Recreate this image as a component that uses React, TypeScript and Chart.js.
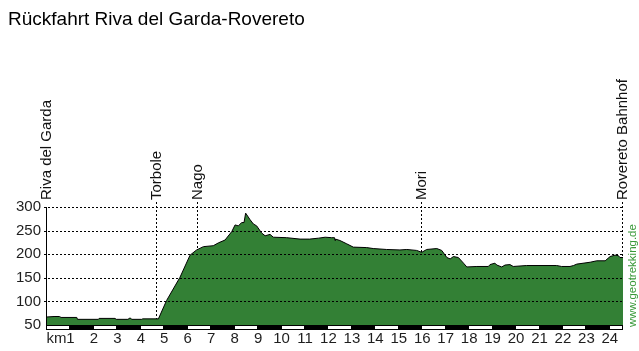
import React, { useEffect, useRef } from 'react';
import { Chart, registerables } from 'chart.js';

Chart.register(...registerables);

const TITLE = 'Rückfahrt Riva del Garda-Rovereto';
const CREDIT = 'www.geotrekking.de';
const KM_UNIT = 'km';

const KM = [
  0, 0.3, 0.53, 0.6, 1.27, 1.3, 2.19, 2.22, 2.9, 2.95, 3.45, 3.54, 3.62, 4.04, 4.08, 4.75,
  5.1, 5.67, 6.1, 6.38, 6.67, 7.09, 7.31, 7.59, 7.88, 8.02, 8.16, 8.3, 8.4, 8.47, 8.66, 8.8,
  8.94, 9.15, 9.3, 9.51, 9.65, 10.22, 10.79, 11.2, 11.58, 11.86, 12.14, 12.26, 12.28, 12.3,
  12.49, 12.78, 13.06, 13.63, 13.91, 14.48, 15.05, 15.34, 15.76, 15.98, 16.19, 16.62, 16.83,
  17.05, 17.19, 17.33, 17.54, 17.76, 17.9, 18.33, 18.82, 18.89, 19.1, 19.18, 19.39, 19.53,
  19.74, 19.88, 20.45, 21.73, 21.94, 22.3, 22.45, 22.59, 23.16, 23.44, 23.8, 24.01, 24.22,
  24.36, 24.43, 24.56,
];

const ELEVATION = [
  67, 68, 68, 66, 66, 62, 62, 64, 64, 62, 62, 65, 62, 62, 63, 63,
  102, 151, 198, 209, 216, 218, 224, 230, 248, 262, 260, 267, 267, 287, 273, 264,
  260, 245, 239, 242, 236, 235, 232, 232, 234, 236, 235, 235, 229, 232,
  229, 222, 215, 214, 212, 210, 209, 210, 208, 204, 210, 212, 208,
  193, 190, 195, 193, 181, 173, 174, 174, 178, 181, 177, 173, 177,
  178, 174, 176, 176, 174, 174, 176, 179, 183, 186, 186, 195, 198,
  197, 193, 193,
];

const X_TICKS = [1, 2, 3, 4, 5, 6, 7, 8, 9, 10, 11, 12, 13, 14, 15, 16, 17, 18, 19, 20, 21, 22, 23, 24];
const Y_TICKS = [50, 100, 150, 200, 250, 300];
const KM_MAX = 24.56;
const Y_MIN = 50;
const Y_MAX = 300;

const WAYPOINT_NAMES = ['Riva del Garda', 'Torbole', 'Nago', 'Mori', 'Rovereto Bahnhof'];
const WAYPOINT_KM = [0, 4.67, 6.42, 16.0, 24.56];

const FONT_FAMILY = '"Liberation Sans", Arial, sans-serif';
const FILL_COLOR = '#338035';
const CREDIT_COLOR = '#3a9a3a';
const TEXT_COLOR = '#1e1e1e';
const X_LABEL_PAD = 5;

const decorPlugin = {
  id: 'decor',
  beforeDatasetsDraw(chart: any) {
    const { ctx, chartArea, scales } = chart;
    const x = scales.x;
    ctx.save();
    ctx.strokeStyle = '#000';
    ctx.lineWidth = 1;
    ctx.setLineDash([2, 2]);
    WAYPOINT_KM.forEach((k, i) => {
      if (i === 0) return;
      const px = Math.round(x.getPixelForValue(k)) - 0.5;
      ctx.beginPath();
      ctx.moveTo(px, chartArea.top - 5);
      ctx.lineTo(px, chartArea.bottom);
      ctx.stroke();
    });
    ctx.restore();
  },
  afterDatasetsDraw(chart: any) {
    const { ctx, chartArea, scales } = chart;
    const x = scales.x;
    const y = scales.y;
    ctx.save();

    // horizontal dotted grid
    ctx.strokeStyle = '#000';
    ctx.lineWidth = 1;
    ctx.setLineDash([2, 2]);
    Y_TICKS.forEach((v) => {
      if (v === Y_MIN) return;
      const py = Math.round(y.getPixelForValue(v)) + 0.5;
      ctx.beginPath();
      ctx.moveTo(chartArea.left - 3, py);
      ctx.lineTo(chartArea.right, py);
      ctx.stroke();
    });
    ctx.setLineDash([]);

    // y axis line
    ctx.beginPath();
    ctx.moveTo(chartArea.left - 0.5, chartArea.top);
    ctx.lineTo(chartArea.left - 0.5, chartArea.bottom);
    ctx.stroke();

    // km strip
    const x0 = x.getPixelForValue(0);
    const xe = x.getPixelForValue(KM_MAX);
    ctx.fillStyle = '#000';
    ctx.fillRect(x0 - 1, chartArea.bottom, xe - x0 + 1, 5);
    ctx.fillStyle = '#fff';
    for (let k = 0; k < KM_MAX; k += 2) {
      const a = Math.round(x.getPixelForValue(k));
      const b = Math.round(x.getPixelForValue(Math.min(k + 1, KM_MAX)));
      ctx.fillRect(a, chartArea.bottom + 1, b - a - 1, 3);
    }

    // "km" unit label
    ctx.fillStyle = TEXT_COLOR;
    ctx.font = `15px ${FONT_FAMILY}`;
    ctx.textAlign = 'right';
    ctx.textBaseline = 'middle';
    ctx.fillText(KM_UNIT, x.getPixelForValue(1) - 4, chartArea.bottom + X_LABEL_PAD + 9);

    // waypoint labels
    ctx.fillStyle = '#111';
    ctx.textAlign = 'left';
    ctx.textBaseline = 'middle';
    WAYPOINT_KM.forEach((k, i) => {
      const px = Math.round(x.getPixelForValue(k));
      ctx.save();
      ctx.translate(px, chartArea.top - 7);
      ctx.rotate(-Math.PI / 2);
      ctx.fillText(WAYPOINT_NAMES[i], 0, 0);
      ctx.restore();
    });

    // credit
    ctx.save();
    ctx.fillStyle = CREDIT_COLOR;
    ctx.font = `11.5px ${FONT_FAMILY}`;
    ctx.translate(chartArea.right + 9.5, chartArea.bottom + 2);
    ctx.rotate(-Math.PI / 2);
    ctx.textAlign = 'left';
    ctx.textBaseline = 'middle';
    ctx.fillText(CREDIT, 0, 0);
    ctx.restore();

    // title
    ctx.fillStyle = '#000';
    ctx.font = `19px ${FONT_FAMILY}`;
    ctx.textAlign = 'left';
    ctx.textBaseline = 'alphabetic';
    ctx.fillText(TITLE, 8, 25);

    ctx.restore();
  },
};

export default function App() {
  const ref = useRef<HTMLCanvasElement | null>(null);

  useEffect(() => {
    const canvas = ref.current;
    if (!canvas) return;
    const points = KM.map((k, i) => ({ x: k, y: ELEVATION[i] }));
    const chart = new Chart(canvas, {
      type: 'line',
      data: {
        datasets: [
          {
            data: points,
            borderColor: '#000',
            borderWidth: 1,
            backgroundColor: FILL_COLOR,
            fill: 'start',
            pointRadius: 0,
            tension: 0,
          },
        ],
      },
      options: {
        responsive: false,
        animation: false,
        devicePixelRatio: 1,
        layout: { padding: { top: 207, right: 16, left: 0, bottom: 0 } },
        plugins: {
          legend: { display: false },
          title: { display: false },
          tooltip: { enabled: false },
        },
        scales: {
          x: {
            type: 'linear',
            min: 0,
            max: KM_MAX,
            grid: { display: false, drawTicks: false },
            border: { display: false },
            afterBuildTicks: (s: any) => {
              s.ticks = X_TICKS.map((v) => ({ value: v }));
            },
            ticks: {
              autoSkip: false,
              maxRotation: 0,
              minRotation: 0,
              padding: X_LABEL_PAD,
              color: TEXT_COLOR,
              font: { family: FONT_FAMILY, size: 15 },
              callback: (v: any) => String(v),
            },
            afterFit: (s: any) => {
              s.height = 26;
            },
          },
          y: {
            type: 'linear',
            min: Y_MIN,
            max: Y_MAX,
            grid: { display: false, drawTicks: false },
            border: { display: false },
            afterBuildTicks: (s: any) => {
              s.ticks = Y_TICKS.map((v) => ({ value: v }));
            },
            ticks: {
              padding: 6,
              color: TEXT_COLOR,
              font: { family: FONT_FAMILY, size: 15 },
            },
            afterFit: (s: any) => {
              s.width = 47;
            },
          },
        },
      },
      plugins: [decorPlugin],
    });
    return () => chart.destroy();
  }, []);

  return (
    <div style={{ position: 'absolute', left: 0, top: 0, width: 639, height: 351, background: '#fff' }}>
      <canvas ref={ref} width={639} height={351} style={{ width: 639, height: 351, display: 'block' }} />
    </div>
  );
}
